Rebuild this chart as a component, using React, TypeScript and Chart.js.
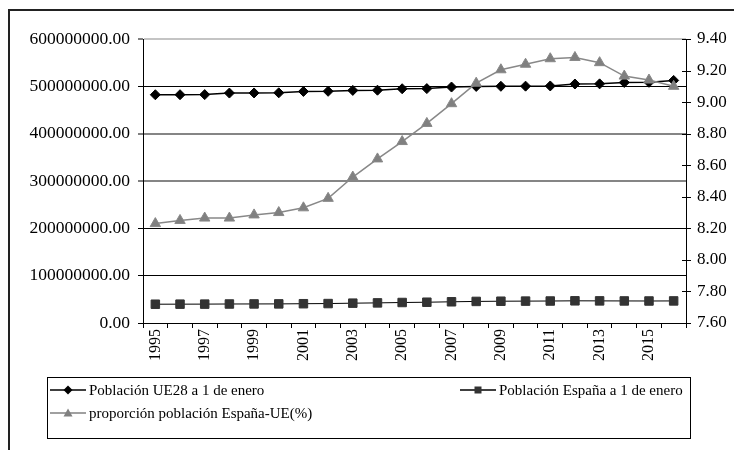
import React, { useEffect, useRef } from "react";
import { Chart, registerables } from "chart.js";

Chart.register(...registerables);

const years = ["1995","1996","1997","1998","1999","2000","2001","2002","2003","2004","2005","2006","2007","2008","2009","2010","2011","2012","2013","2014","2015","2016"];
// millions of inhabitants
const ue28Millions = [482.2,482.3,482.5,485.8,486.0,486.3,489.2,489.5,491.4,491.8,494.9,495.2,498.5,499.8,500.1,500.4,500.8,504.9,505.2,508.2,508.5,512.5];
const spainMillions = [39.69,39.79,39.88,40.15,40.27,40.36,40.75,41.07,41.89,42.49,43.30,43.90,44.82,45.58,46.03,46.24,46.45,46.87,46.73,46.58,46.48,46.64];
const ratioPct = [8.23,8.25,8.265,8.265,8.285,8.30,8.33,8.39,8.525,8.64,8.75,8.865,8.99,9.12,9.205,9.24,9.275,9.283,9.25,9.165,9.14,9.10];
const seriesLabels = ["Población UE28 a 1 de enero", "Población España a 1 de enero", "proporción población España-UE(%)"];
const leftTickValues = [0, 100000000, 200000000, 300000000, 400000000, 500000000, 600000000];

const FONT = "'Liberation Serif', 'Times New Roman', serif";

function drawMarker(ctx: CanvasRenderingContext2D, style: string, x: number, y: number, r: number, color: string) {
  ctx.save();
  ctx.fillStyle = color;
  ctx.beginPath();
  if (style === "diamond") {
    ctx.moveTo(x, y - r); ctx.lineTo(x + r, y); ctx.lineTo(x, y + r); ctx.lineTo(x - r, y);
  } else if (style === "square") {
    ctx.rect(x - r, y - r, 2 * r, 2 * r);
  } else {
    ctx.moveTo(x, y - r); ctx.lineTo(x + r, y + r * 0.75); ctx.lineTo(x - r, y + r * 0.75);
  }
  ctx.closePath();
  ctx.fill();
  ctx.restore();
}

const framePlugin = {
  id: "frame",
  beforeDraw(chart: any) {
    const ctx = chart.ctx as CanvasRenderingContext2D;
    ctx.save();
    ctx.fillStyle = "#fff";
    ctx.fillRect(0, 0, chart.width, chart.height);
    ctx.strokeStyle = "#222";
    ctx.lineWidth = 2;
    ctx.beginPath();
    ctx.moveTo(9, chart.height);
    ctx.lineTo(9, 10);
    ctx.lineTo(chart.width, 10);
    ctx.stroke();
    ctx.restore();
  },
  afterDraw(chart: any) {
    const ctx = chart.ctx as CanvasRenderingContext2D;
    // crossing tick marks on right axis
    const y1 = chart.scales.y1;
    const ax = chart.chartArea.right;
    ctx.save();
    ctx.strokeStyle = "#000";
    ctx.lineWidth = 1;
    y1.ticks.forEach((t: any) => {
      const py = Math.round(y1.getPixelForValue(t.value)) + 0.5;
      ctx.beginPath();
      ctx.moveTo(ax - 4, py);
      ctx.lineTo(ax + 5, py);
      ctx.stroke();
    });
    // legend box
    ctx.strokeStyle = "#000";
    ctx.strokeRect(47.5, 377.5, 643, 61);
    ctx.font = `15px ${FONT}`;
    ctx.textBaseline = "middle";
    ctx.textAlign = "left";
    const items = [
      { x: 50, y: 390, color: "#000", mcolor: "#000", style: "diamond", r: 4.5, label: seriesLabels[0] },
      { x: 460, y: 390, color: "#000", mcolor: "#333", style: "square", r: 3.5, label: seriesLabels[1] },
      { x: 50, y: 413, color: "#808080", mcolor: "#808080", style: "triangle", r: 4.5, label: seriesLabels[2] },
    ];
    items.forEach((it) => {
      ctx.strokeStyle = it.color;
      ctx.lineWidth = 1.5;
      ctx.beginPath();
      ctx.moveTo(it.x, it.y);
      ctx.lineTo(it.x + 36, it.y);
      ctx.stroke();
      drawMarker(ctx, it.style, it.x + 18, it.y, it.r, it.mcolor);
      ctx.fillStyle = "#000";
      ctx.fillText(it.label, it.x + 39, it.y + 1);
    });
    ctx.restore();
  },
};

function gridColor(v: number) {
  if (v === 0) return "rgba(0,0,0,0)";
  if (v === 600000000) return "#c4c4c4";
  if (v === 300000000 || v === 400000000) return "#858585";
  return "#000";
}
function gridWidth(v: number) {
  if (v === 300000000 || v === 400000000 || v === 600000000) return 2;
  return 1;
}

export default function App() {
  const ref = useRef<HTMLCanvasElement | null>(null);
  useEffect(() => {
    if (!ref.current) return;
    const chart = new Chart(ref.current, {
      type: "line",
      data: {
        labels: years,
        datasets: [
          {
            label: seriesLabels[0],
            data: ue28Millions.map((v) => v * 1e6),
            yAxisID: "y",
            borderColor: "#000",
            backgroundColor: "#000",
            borderWidth: 1.5,
            pointStyle: "rectRot",
            pointRadius: 5,
            pointBorderWidth: 1,
            order: 1,
          },
          {
            label: seriesLabels[1],
            data: spainMillions.map((v) => v * 1e6),
            yAxisID: "y",
            borderColor: "#000",
            backgroundColor: "#333",
            pointBorderColor: "#333",
            borderWidth: 1,
            pointStyle: "rect",
            pointRadius: 6,
            pointBorderWidth: 1,
            order: 2,
          },
          {
            label: seriesLabels[2],
            data: ratioPct,
            yAxisID: "y1",
            borderColor: "#888",
            backgroundColor: "#808080",
            borderWidth: 1.5,
            pointStyle: "triangle",
            pointRadius: 6,
            pointBorderWidth: 1,
            order: 0,
          },
        ],
      },
      plugins: [framePlugin],
      options: {
        responsive: false,
        animation: false,
        layout: { padding: { top: 39, left: 0, right: 0, bottom: 0 } },
        plugins: { legend: { display: false }, tooltip: { enabled: false }, title: { display: false } },
        elements: { line: { tension: 0 } },
        scales: {
          x: {
            type: "category",
            offset: true,
            grid: { display: true, drawOnChartArea: false, drawTicks: true, tickLength: 5, color: "#000", offset: true },
            border: { display: true, color: "#000", width: 1 },
            ticks: {
              autoSkip: false,
              minRotation: 90,
              maxRotation: 90,
              padding: 1,
              color: "#000",
              font: { family: FONT, size: 16 },
              callback: (_v: any, i: number) => (i % 2 === 0 ? years[i] : ""),
            },
            afterFit: (s: any) => { s.height = 127; },
          },
          y: {
            position: "left",
            min: leftTickValues[0],
            max: leftTickValues[leftTickValues.length - 1],
            afterBuildTicks: (s: any) => { s.ticks = leftTickValues.map((v) => ({ value: v })); },
            grid: {
              color: (c: any) => gridColor(c.tick ? c.tick.value : 0),
              lineWidth: (c: any) => gridWidth(c.tick ? c.tick.value : 0),
              tickColor: "#000",
              tickWidth: 1,
              tickLength: 5,
            },
            border: { display: true, color: "#000", width: 1 },
            ticks: {
              padding: 8,
              color: "#000",
              font: { family: FONT, size: 17.5 },
              callback: (v: any) => Number(v).toFixed(2),
            },
            afterFit: (s: any) => { s.width = 143; },
          },
          y1: {
            position: "right",
            min: 7.6,
            max: 9.4,
            ticks: {
              stepSize: 0.2,
              padding: 11,
              color: "#000",
              font: { family: FONT, size: 17 },
              callback: (v: any) => Number(v).toFixed(2),
            },
            grid: { drawOnChartArea: false, drawTicks: false },
            border: { display: true, color: "#000", width: 1 },
            afterFit: (s: any) => { s.width = 48; },
          },
        },
      },
    });
    return () => chart.destroy();
  }, []);
  return (
    <div style={{ position: "fixed", left: 0, top: 0, width: 734, height: 450, background: "#fff" }}>
      <canvas ref={ref} width={734} height={450} style={{ display: "block", width: 734, height: 450 }} />
    </div>
  );
}
